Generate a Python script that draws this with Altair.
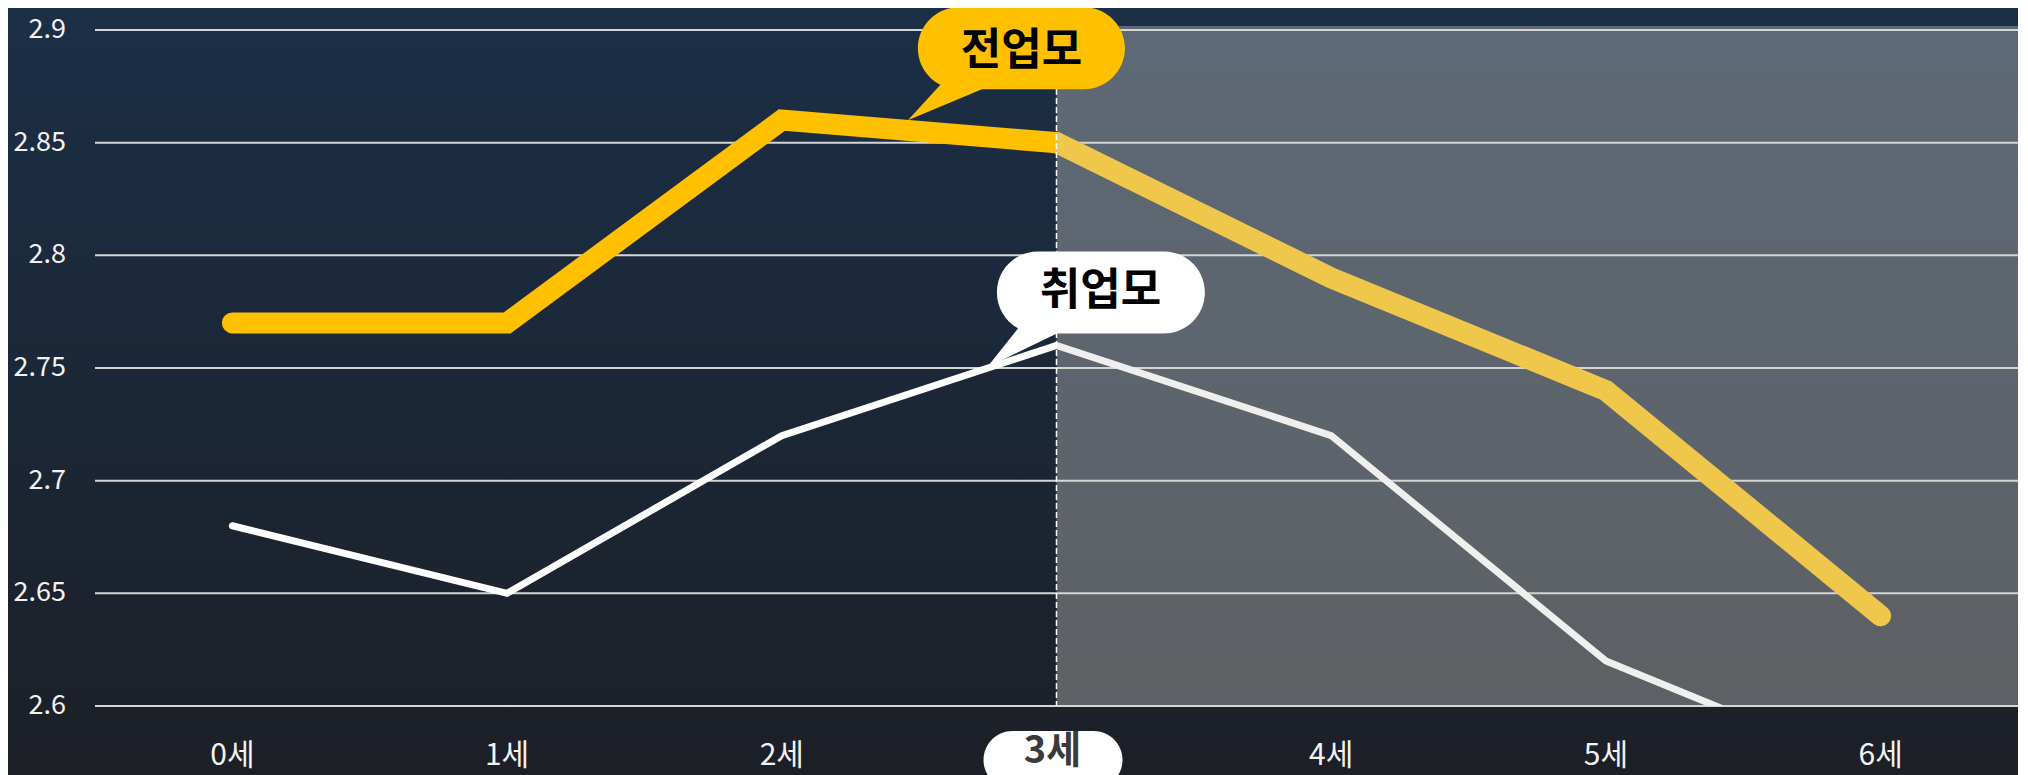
import altair as alt
import pandas as pd

# ---------------- data ----------------
ages = ["0세", "1세", "2세", "3세", "4세", "5세", "6세"]
full_time_mom = [2.77, 2.77, 2.86, 2.85, 2.79, 2.74, 2.64]   # 전업모
working_mom = [2.68, 2.65, 2.72, 2.76, 2.72, 2.62, 2.57]     # 취업모
series_names = ["전업모", "취업모"]
y_ticks = [2.6, 2.65, 2.7, 2.75, 2.8, 2.85, 2.9]
y_tick_labels = ["2.6", "2.65", "2.7", "2.75", "2.8", "2.85", "2.9"]
highlight_age = "3세"

# ---------------- layout / style ----------------
W, H = 1923, 676
PAD_L, PAD_T, PAD_B = 87, 22, 69
FONT = "Noto Sans CJK KR"
YELLOW = "#FFC000"
hi = ages.index(highlight_age)

df_full = pd.DataFrame({"age": ages, "value": full_time_mom})
df_work = pd.DataFrame({"age": ages, "value": working_mom})
df_ticks = pd.DataFrame({"tick": y_ticks, "label": y_tick_labels})
df_ages = pd.DataFrame({"age": ages})
one = pd.DataFrame({"k": [0]})

x_scale = alt.Scale(type="point", domain=ages, padding=0.5)
y_scale = alt.Scale(domain=[y_ticks[0], y_ticks[-1]], nice=False, zero=False)


def X(field):
    return alt.X(field, scale=x_scale, axis=None, sort=ages)


def Y(field):
    return alt.Y(field, scale=y_scale, axis=None)


def pill(x0, x1, y0, y1, tail=None):
    r = (y1 - y0) / 2
    p = (f"M{x0 + r},{y0} L{x1 - r},{y0} A{r},{r} 0 0 1 {x1 - r},{y1} "
         f"L{x0 + r},{y1} A{r},{r} 0 0 1 {x0 + r},{y0} Z")
    if tail:
        (ax, ay), (bx, by), (cx, cy) = tail
        p += f" M{ax},{ay} L{bx},{by} L{cx},{cy} Z"
    return p


def xd():
    return alt.XDatum(highlight_age, scale=x_scale, axis=None)


def yd(v):
    return alt.YDatum(v, scale=y_scale, axis=None)


bg = alt.Chart(one).mark_rect(
    fill={"gradient": "linear", "x1": 0, "y1": 0, "x2": 0, "y2": 1,
          "stops": [{"offset": 0, "color": "#1b2f47"}, {"offset": 1, "color": "#1c1f26"}]}
).encode(x=alt.value(-PAD_L), x2=alt.value(W + 20), y=alt.value(-PAD_T), y2=alt.value(H + PAD_B))

grid = alt.Chart(df_ticks).mark_rule(color="#d6d6d6", strokeWidth=2).encode(
    y=Y("tick:Q"), x=alt.value(0), x2=alt.value(W + 2))

y_labels = alt.Chart(df_ticks).mark_text(
    font=FONT, fontSize=27, color="#f2f2f2", align="right", baseline="middle"
).encode(y=Y("tick:Q"), x=alt.value(-29), text="label:N")

x_labels = alt.Chart(df_ages).transform_filter(
    alt.datum.age != highlight_age
).mark_text(
    font=FONT, fontSize=30, color="#f2f2f2", align="center", baseline="middle"
).encode(x=X("age:N"), y=alt.value(H + 50), text="age:N")

work_line = alt.Chart(df_work).mark_line(
    color="#ffffff", strokeWidth=7, strokeCap="round", strokeJoin="miter", clip=True
).encode(x=X("age:N"), y=Y("value:Q"))

full_line = alt.Chart(df_full).mark_line(
    color=YELLOW, strokeWidth=21, strokeCap="round", strokeJoin="miter"
).encode(x=X("age:N"), y=Y("value:Q"))

overlay = alt.Chart(one).mark_rect(color="#d4d2cd", opacity=0.36).encode(
    x=xd(), x2=alt.value(W + 2), y=alt.value(-4), y2=alt.value(H))

dash = alt.Chart(one).mark_rule(color="#ffffff", strokeWidth=1.5, strokeDash=[6, 3]).encode(
    x=xd(), y=alt.value(-4), y2=alt.value(H))

full_bubble = alt.Chart(one).mark_point(
    shape=pill(-138.6, 68.4, -135.4, -53.4,
               tail=[(-74.6, -53.4), (-148.6, -22.4), (-110.6, -64)]),
    size=4, filled=True, color=YELLOW, opacity=1, strokeWidth=0
).encode(x=xd(), y=yd(full_time_mom[hi]))

full_text = alt.Chart(one).mark_text(
    text=series_names[0], font=FONT, fontSize=44, fontWeight="bold", color="#000000",
    dx=-35, dy=-91, baseline="middle", align="center"
).encode(x=xd(), y=yd(full_time_mom[hi]))

work_bubble = alt.Chart(one).mark_point(
    shape=pill(-59.6, 148.4, -94, -12,
               tail=[(0.4, -12), (-69.6, 22), (-33, -24)]),
    size=4, filled=True, color="#ffffff", opacity=1, strokeWidth=0
).encode(x=xd(), y=yd(working_mom[hi]))

work_text = alt.Chart(one).mark_text(
    text=series_names[1], font=FONT, fontSize=44, fontWeight="bold", color="#000000",
    dx=44, dy=-53, baseline="middle", align="center"
).encode(x=xd(), y=yd(working_mom[hi]))

age_pill = alt.Chart(one).mark_point(
    shape=pill(-73, 66, 25, 83),
    size=4, filled=True, color="#ffffff", opacity=1, strokeWidth=0
).encode(x=xd(), y=yd(y_ticks[0]))

age_text = alt.Chart(one).mark_text(
    text=highlight_age, font=FONT, fontSize=38, fontWeight="bold", color="#3a3a3a",
    dx=-4, dy=46, baseline="middle", align="center"
).encode(x=xd(), y=yd(y_ticks[0]))

chart = alt.layer(
    bg, grid, y_labels, x_labels, work_line, full_line, overlay, dash,
    full_bubble, full_text, work_bubble, work_text, age_pill, age_text
).properties(
    width=W, height=H,
    padding={"left": PAD_L, "top": PAD_T, "right": 0, "bottom": PAD_B},
    autosize=alt.AutoSizeParams(type="none"),
    background="#1c2028",
).configure_view(stroke=None)

chart.save("out.html", embed_options={"renderer": "svg", "actions": False})
